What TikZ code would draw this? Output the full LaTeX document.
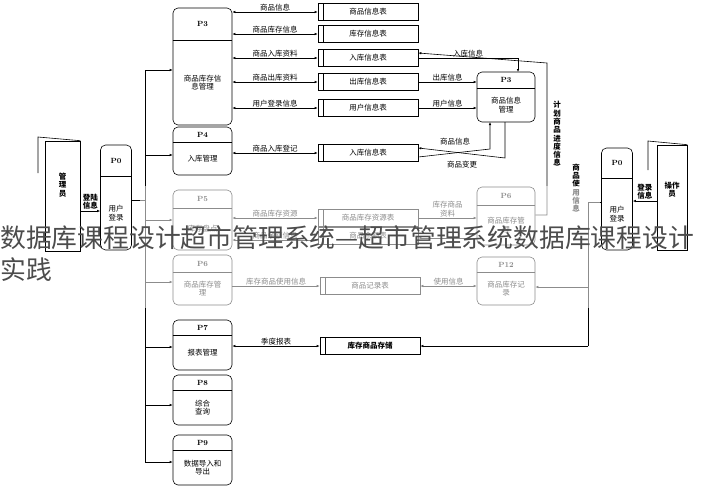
\documentclass[tikz,border=0pt]{standalone}
\usepackage{fontspec}
\newfontfamily\cjk{Noto Sans CJK SC}
\usetikzlibrary{arrows.meta,positioning}

\tikzset{
  proc/.style = {draw, rounded corners=5pt, minimum width=59pt, inner sep=0pt},
  store/.style = {draw, minimum width=100pt, minimum height=17pt, inner sep=0pt,
    path picture={\draw ([xshift=5pt]path picture bounding box.north west) -- ([xshift=5pt]path picture bounding box.south west);}},
  flow/.style = {-{Latex[length=3pt,width=2.5pt]}},
  both/.style = {{Latex[length=3pt,width=2.5pt]}-{Latex[length=3pt,width=2.5pt]}},
  lbl/.style = {font=\cjk\fontsize{7.5}{8.5}\selectfont, inner sep=1pt, align=center},
  vlbl/.style = {font=\cjk\bfseries\fontsize{7.5}{8.3}\selectfont, inner sep=1pt, align=center},
}

% name, cx, top, bottom, header y, title, label
\newcommand\procbox[7]{%
  \node[proc, minimum height={(#4-#3)*1pt}] (#1) at (#2,{(#3+#4)/2}) {};
  \draw (#1.west |- 0,#5) -- (#1.east |- 0,#5);
  \node[lbl, font=\bfseries\fontsize{7.5}{8.5}\selectfont] at (#2,{(#3+#5)/2}) {#6};
  \node[lbl] at (#2,{(#5+#4)/2}) {#7};
}

\begin{document}
\begin{tikzpicture}[x=1pt, y=-1pt, line width=0.6pt]
\useasboundingbox (0,0) rectangle (707,490);

% processes
\procbox{p3}{202.5}{8}{125}{40}{P3}{商品库存信\\息管理}
\procbox{p4}{202.5}{127}{175}{142}{P4}{入库管理}
\procbox{p5}{202.5}{190}{250}{208}{P5}{库存盘点}
\procbox{p6l}{202.5}{255}{305}{272}{P6}{商品库存管\\理}
\procbox{p7}{202.5}{320}{370}{335}{P7}{报表管理}
\procbox{p8}{202.5}{375}{425}{390}{P8}{综合\\查询}
\procbox{p9}{202.5}{435}{485}{450}{P9}{数据导入和\\导出}
\tikzset{proc/.append style={minimum width=58pt}}
\procbox{p3r}{506}{72}{122}{88}{P3}{商品信息\\管理}
\procbox{p6r}{506}{187}{245}{205}{P6}{商品库存管\\理}
\procbox{p12}{506}{257}{305}{272}{P12}{商品库存记\\录}
\tikzset{proc/.append style={minimum width=31pt}}
\procbox{p0l}{116}{145}{250}{176}{P0}{用户\\登录}
\procbox{p0r}{617}{148}{250}{178}{P0}{用户\\登录}

% external entities
\node[draw, minimum width=35pt, minimum height=110pt, inner sep=0pt] (admin) at (62.5,196) {};
\node[vlbl] at (62.5,185) {管\\理\\员};
\draw (admin.north east) -- (38,137) -- (38,173);
\node[draw, minimum width=30pt, minimum height=105pt, inner sep=0pt] (oper) at (672,197.5) {};
\node[vlbl] at (672,190) {操作\\员};
\draw (oper.north east) -- (648,141) -- (648,170);

% data stores
\node[store, lbl] (s1) at (368,12) {商品信息表};
\node[store, lbl] (s2) at (368,34) {库存信息表};
\node[store, lbl] (s3) at (368,58) {入库信息表};
\node[store, lbl] (s4) at (368,82) {出库信息表};
\node[store, lbl] (s5) at (368,108) {用户信息表};
\node[store, lbl] (s6) at (368,153) {入库信息表};
\node[store, lbl] (s7) at (368,218) {商品库存资源表};
\node[store, lbl] (s8) at (368,236) {商品余额表};
\node[store, lbl] (s9) at (370,286) {商品记录表};
\node[store, vlbl] (s10) at (370,346) {库存商品存储};

% bus from P0
\draw (p0l.east |- 0,200) -- (145,200);
\draw (145,70) -- (145,462);
\foreach \p/\y in {p3/70, p4/155, p5/220, p6l/282, p7/347, p8/405, p9/462}
  \draw[flow] (145,\y) -- (\p.west |- 0,\y);
\draw[flow] (admin.east |- 0,211) -- node[vlbl, above] {登陆\\信息} (p0l.west |- 0,211);
\draw[flow] (oper.west |- 0,201) -- node[vlbl, above] {登录\\信息} (p0r.east |- 0,201);

% P3 flows
\draw[both] (p3.east |- s1.west) -- node[lbl, above] {商品信息} (s1.west);
\draw[both] (p3.east |- s2.west) -- node[lbl, above] {商品库存信息} (s2.west);
\draw[both] (p3.east |- s3.west) -- node[lbl, above] {商品入库资料} (s3.west);
\draw[both] (p3.east |- s4.west) -- node[lbl, above] {商品出库资料} (s4.west);
\draw[both] (p3.east |- s5.west) -- node[lbl, above] {用户登录信息} (s5.west);
\draw[both] (p4.east |- s6.west) -- node[lbl, above] {商品入库登记} (s6.west);

% right P3 flows
\draw[flow] (s3.east) -- node[lbl, above] {入库信息} (518,58) -- (518,72);
\draw[flow] (s4.east) -- node[lbl, above] {出库信息} (p3r.west |- s4.east);
\draw[flow] (s5.east) -- node[lbl, above] {用户信息} (p3r.west |- s5.east);
\draw[flow] ([yshift=-4pt]s6.east) -- (490,149) -- (490,122);
\node[lbl] at (455,142) {商品信息};
\draw[flow] (505,122) -- (505,158) -- ([yshift=5pt]s6.east);
\node[lbl] at (462,165) {商品变更};
\draw[flow] (p6r.east |- 0,215) -- (547,215) -- (547,63) -- ([yshift=5pt]s3.east);
\node[vlbl] at (557,134) {计\\划\\商\\品\\进\\度\\信\\息};
\node[vlbl] at (576,188) {商\\品\\使\\用\\信\\息};

% middle flows
\draw[both] (p5.east |- s7.west) -- node[lbl, above] {商品库存资源} (s7.west);
\draw[both] (p5.east |- 0,240) -- node[lbl, above] {商品余额信息} (s8.west |- 0,240);
\draw[flow] (s7.east) -- node[lbl, above] {库存商品\\资料} (p6r.west |- s7.east);
\draw[flow] (p6r.west |- 0,238) -- (s8.east |- 0,238);
\draw[flow] (p6l.east |- s9.west) -- node[lbl, above] {库存商品使用信息} (s9.west);
\draw[both] (p12.west |- s9.east) -- node[lbl, above] {使用信息} (s9.east);
\draw (p0r.west |- 0,202) -- (588,202) -- (588,346);
\draw[flow] (588,287) -- (p12.east |- 0,287);
\draw[flow] (588,346) -- (s10.east);
\draw[both] (p7.east |- s10.west) -- node[lbl, above] {季度报表} (s10.west);

% faded band and watermark
\fill[white, opacity=0.55] (140,186) rectangle (600,308);
\node[anchor=west, inner sep=0pt, text=black!70, font=\cjk\fontsize{25.8}{30}\selectfont] at (0,238) {数据库课程设计超市管理系统—超市管理系统数据库课程设计};
\node[anchor=west, inner sep=0pt, text=black!70, font=\cjk\fontsize{25.8}{30}\selectfont] at (0,270) {实践};
\end{tikzpicture}
\end{document}
